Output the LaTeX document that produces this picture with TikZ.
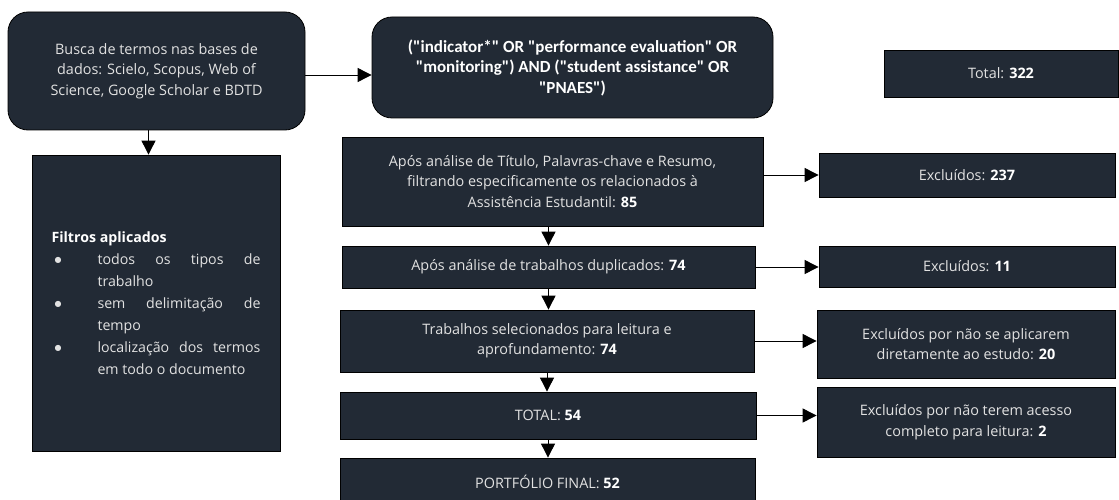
\documentclass[tikz,border=0pt]{standalone}
\usepackage{fontspec}
\setmainfont{Open Sans}
\newfontfamily\queryfont{Carlito}
\newfontfamily\symfont{DejaVu Sans}
\usetikzlibrary{arrows.meta,calc}
\definecolor{boxfill}{HTML}{222A35}
\definecolor{boxtext}{HTML}{E2E2E2}
\newcommand\numb[1]{\textcolor{white}{\textbf{#1}}}
\newcommand\filtitem{\hangindent=46pt\hangafter=1\noindent\makebox[46pt][l]{\hspace{3pt}{\symfont\fontsize{8}{8}\selectfont\raisebox{1.5pt}{●}}}}
\hyphenpenalty=10000
\exhyphenpenalty=10000

\begin{document}
\begin{tikzpicture}[x=1pt,y=-1pt,
  box/.style={draw=black, line width=0.8pt, fill=boxfill, text=boxtext,
    align=center, inner sep=0pt, font=\fontsize{14.4}{20.5}\selectfont},
  roundbox/.style={box, rounded corners=20pt},
  flow/.style={draw=black, line width=0.9pt, -{Triangle[length=14pt,width=14pt]}}]

\useasboundingbox (0,0) rectangle (1119,500);
\clip (0,0) rectangle (1119,500);

% search step and query
\node[roundbox, minimum width=297, minimum height=118] (busca) at (156.5,71)
  {Busca de termos nas bases de\\ dados: Scielo, Scopus, Web of\\ Science, Google Scholar e BDTD};
\node[roundbox, minimum width=401, minimum height=101, text=white,
  font=\queryfont\bfseries\fontsize{17}{20.5}\selectfont] (query) at (572.5,67.5)
  {("indicator*" OR "performance evaluation" OR\\ "monitoring") AND ("student assistance" OR\\ "PNAES")};
\node[box, minimum width=234, minimum height=47] (total) at (1001,73.5) {Total: \numb{322}};

% filters
\node[box, minimum width=248, minimum height=296, text width=209pt, align=justify,
  font=\fontsize{14.2}{22}\selectfont] (filtros) at (156,303)
  {{\color{white}\bfseries Filtros aplicados}\par
   \filtitem todos os tipos de\linebreak trabalho\par
   \filtitem sem delimitação de\linebreak tempo\par
   \filtitem localização dos termos\linebreak em todo o documento\par};

% screening column
\node[box, minimum width=421, minimum height=89] (titulo) at (552.5,181.5)
  {Após análise de Título, Palavras-chave e Resumo,\\ filtrando especificamente os relacionados à\\ Assistência Estudantil: \numb{85}};
\node[box, minimum width=413, minimum height=42] (dupl) at (548.5,267)
  {Após análise de trabalhos duplicados: \numb{74}};
\node[box, minimum width=414, minimum height=62] (leitura) at (547,341)
  {Trabalhos selecionados para leitura e\\ aprofundamento: \numb{74}};
\node[box, minimum width=416, minimum height=47] (tot54) at (548,415.5)
  {TOTAL: \numb{54}};
\node[box, minimum width=415, minimum height=48] (final) at (547.5,482)
  {PORTFÓLIO FINAL: \numb{52}};

% exclusions
\node[box, minimum width=296, minimum height=44] (exc1) at (967,175) {Excluídos: \numb{237}};
\node[box, minimum width=296, minimum height=41] (exc2) at (967,266.5) {Excluídos: \numb{11}};
\node[box, minimum width=298, minimum height=68] (exc3) at (966,344)
  {Excluídos por não se aplicarem\\ diretamente ao estudo: \numb{20}};
\node[box, minimum width=298, minimum height=70] (exc4) at (966,422)
  {Excluídos por não terem acesso\\ completo para leitura: \numb{2}};

% connectors
\draw[flow] ([yshift=-4pt]busca.east) -- ([yshift=-4pt]busca.east -| query.west);
\draw[flow] ([xshift=-8pt]busca.south) -- ([xshift=-8pt]busca.south |- filtros.north);
\draw[flow] (titulo.south -| dupl.north) -- (dupl.north);
\draw[flow] (dupl.south) -- (dupl.south |- leitura.north);
\draw[flow] (leitura.south) -- (leitura.south |- tot54.north);
\draw[flow] (tot54.south) -- (tot54.south |- final.north);
\draw[flow] (titulo.east |- exc1.west) -- (exc1.west);
\draw[flow] (dupl.east) -- (dupl.east -| exc2.west);
\draw[flow] (leitura.east) -- (leitura.east -| exc3.west);
\draw[flow] (tot54.east) -- (tot54.east -| exc4.west);
\end{tikzpicture}
\end{document}
